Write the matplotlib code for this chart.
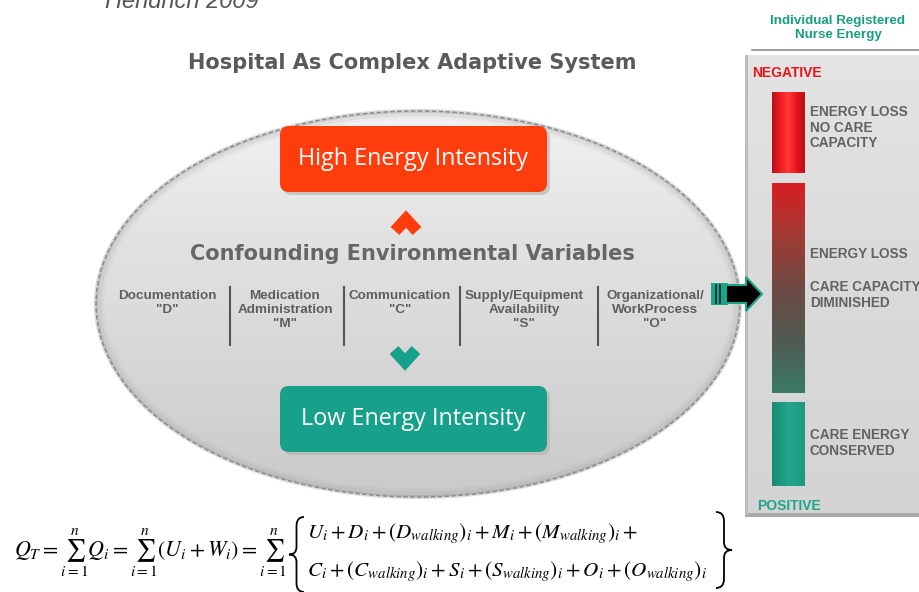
import numpy as np
import matplotlib
matplotlib.use("Agg")
import matplotlib.pyplot as plt
from matplotlib.patches import Ellipse, FancyBboxPatch, Rectangle, Polygon, PathPatch
from matplotlib.path import Path
from matplotlib.colors import LinearSegmentedColormap

# ---- content ----
author = "Hendrich 2009"
title = "Hospital As Complex Adaptive System"
high_label = "High Energy Intensity"
low_label = "Low Energy Intensity"
middle_label = "Confounding Environmental Variables"
variables = ["Documentation\n\"D\"", "Medication\nAdministration\n\"M\"",
             "Communication\n\"C\"", "Supply/Equipment\nAvailability\n\"S\"",
             "Organizational/\nWorkProcess\n\"O\""]
panel_title = "Individual Registered\nNurse Energy"
neg_label = "NEGATIVE"
pos_label = "POSITIVE"
zone_labels = ["ENERGY LOSS\nNO CARE\nCAPACITY", "ENERGY LOSS",
               "CARE CAPACITY\nDIMINISHED", "CARE ENERGY\nCONSERVED"]
eq_left = r"$Q_T = \sum_{i=1}^{n} Q_i = \sum_{i=1}^{n}(U_i + W_i) = \sum_{i=1}^{n}$"
eq_line1 = r"$U_i + D_i + \left(D_{walking}\right)_i + M_i + \left(M_{walking}\right)_i +$"
eq_line2 = r"$C_i + \left(C_{walking}\right)_i + S_i + \left(S_{walking}\right)_i + O_i + \left(O_{walking}\right)_i$"

plt.rcParams['mathtext.fontset'] = 'stix'
SANS = ['Liberation Sans', 'DejaVu Sans']
WIDE = ['DejaVu Sans']

fig = plt.figure(figsize=(9.19, 5.92), dpi=100)
ax = fig.add_axes([0, 0, 1, 1])
ax.set_xlim(0, 919)
ax.set_ylim(592, 0)
ax.axis('off')

def gradient(x0, x1, y0, y1, colors, clip=None, horizontal=False, z=1):
    cmap = LinearSegmentedColormap.from_list('g', colors)
    g = np.linspace(0, 1, 256)
    arr = g[None, :] if horizontal else g[:, None]
    im = ax.imshow(arr, cmap=cmap, extent=(x0, x1, y1, y0), origin='upper',
                   aspect='auto', zorder=z, interpolation='bilinear')
    if clip is not None:
        im.set_clip_path(clip)
    return im

def brace(x_tip, x_end, y0, y1, lw=1.3):
    ym = (y0 + y1) / 2.0
    h = y1 - y0
    xm = (x_tip + x_end) / 2.0
    verts = [(x_end, y0), (xm, y0), (xm, y0 + 0.12 * h),
             (xm, ym - 0.1 * h),
             (xm, ym), (x_tip, ym),
             (xm, ym), (xm, ym + 0.1 * h),
             (xm, y1 - 0.12 * h),
             (xm, y1), (x_end, y1)]
    codes = [Path.MOVETO, Path.CURVE3, Path.CURVE3, Path.LINETO,
             Path.CURVE3, Path.CURVE3, Path.CURVE3, Path.CURVE3,
             Path.LINETO, Path.CURVE3, Path.CURVE3]
    ax.add_patch(PathPatch(Path(verts, codes), facecolor='none', edgecolor='black', lw=lw, zorder=5))

# ---- author (cut off at top) ----
ax.text(105, 2, author, fontsize=17, style='italic', color='#555555',
        family=SANS, ha='left', va='center')

# ---- title ----
ax.text(412, 63, title, fontsize=15, fontweight='bold', color='#5a5a5a',
        family=WIDE, ha='center', va='center')

# ---- ellipse ----
clip_e = Ellipse((418, 304), 644, 386, transform=ax.transData)
gradient(96, 740, 111, 497, ['#f2f2f2', '#e2e2e2', '#d6d6d6', '#cacaca'], clip=clip_e, z=2)
# soft darker rim on the inside
for k, (dw, a) in enumerate([(0, 0.35), (6, 0.18), (12, 0.08)]):
    ax.add_patch(Ellipse((418, 304), 644 - dw, 386 - dw, facecolor='none', edgecolor='#9a9a9a',
                         lw=3, alpha=a, zorder=3))
ax.add_patch(Ellipse((418, 304), 644, 386, facecolor='none', edgecolor='#8c8c8c', lw=1.1,
                     zorder=3, linestyle=(0, (3, 1.5))))

# ---- high / low boxes ----
for (y0, color, label) in [(126, '#ff3c0c', high_label), (386, '#17a08a', low_label)]:
    ax.add_patch(FancyBboxPatch((283, y0 + 3), 267, 66, boxstyle="round,pad=0,rounding_size=9",
                                facecolor='#b0b0b0', edgecolor='none', zorder=4, alpha=0.6))
    ax.add_patch(FancyBboxPatch((280, y0), 267, 66, boxstyle="round,pad=0,rounding_size=9",
                                facecolor=color, edgecolor='none', zorder=5))
    ax.text(413, y0 + 33, label, fontsize=16.8, color='white', family=['Open Sans', 'DejaVu Sans'],
            ha='center', va='center', zorder=6)

# chevrons
ax.plot([395, 406, 417], [231, 219, 231], color='#ff3c0c', lw=8.5, solid_joinstyle='miter',
        solid_capstyle='butt', zorder=6)
ax.plot([394, 405, 416], [350, 362, 350], color='#17a08a', lw=8.5, solid_joinstyle='miter',
        solid_capstyle='butt', zorder=6)

# middle label
ax.text(412, 254, middle_label, fontsize=15, fontweight='bold', color='#666666',
        family=WIDE, ha='center', va='center', zorder=6)

# variables
var_x = [167, 285, 400, 524, 655]
sep_x = [230, 344, 460, 598]
for x, lab in zip(var_x, variables):
    ax.text(x, 290, lab, fontsize=9.7, fontweight='bold', color='#5e5e5e', family=SANS,
            ha='center', va='top', linespacing=1.22, zorder=6)
for x in sep_x:
    ax.plot([x, x], [287, 345], color='#555555', lw=1.5, zorder=6)

# arrow to panel
ax.add_patch(Rectangle((711, 283), 17, 22, facecolor='#1aa58a', edgecolor='none', zorder=7))
ax.plot([716, 716], [285, 303], color='#222222', lw=1.2, zorder=8)
ax.plot([720, 720], [285, 303], color='#222222', lw=1.2, zorder=8)
arrow = Polygon([[726, 285], [746, 285], [746, 277], [762, 294], [746, 311], [746, 303], [726, 303]],
                closed=True, facecolor='black', edgecolor='#1aa58a', lw=1.5, zorder=12)
ax.add_patch(arrow)

# ---- right panel ----
ax.plot([752, 919], [50, 50], color='#8a8a8a', lw=1.2, zorder=3)
ax.text(838, 28, panel_title, fontsize=9.6, fontweight='bold', color='#1a9e80', family=SANS,
        ha='center', va='center', linespacing=1.15)
ax.add_patch(Rectangle((745, 57), 180, 460, facecolor='#a8a8a8', edgecolor='none', zorder=8))
gradient(748, 928, 55, 513, ['#e4e4e4', '#dadada', '#d4d4d4'], clip=None, z=9)
ax.add_patch(Rectangle((745, 55), 3, 460, facecolor='#bdbdbd', edgecolor='none', zorder=10))

ax.text(752, 73, neg_label, fontsize=10, fontweight='bold', color='#e8141a', family=SANS,
        ha='left', va='center', zorder=11)
ax.text(757, 506, pos_label, fontsize=10, fontweight='bold', color='#20a58a', family=SANS,
        ha='left', va='center', zorder=11)

# bar segments
gradient(772, 805, 92, 173, ['#b80f14', '#ee1c22', '#ff3a36', '#e8141c', '#b80f14'],
         horizontal=True, z=11)
gradient(772, 805, 183, 393, ['#d81e22', '#a03a34', '#6e4a44', '#505a52', '#3b7a66'], z=11)
gradient(772, 805, 402, 486, ['#1a8a74', '#22a58a', '#1c9a80'], horizontal=True, z=11)

zone_y = [105, 247, 280, 428]
for y, lab in zip(zone_y, zone_labels):
    ax.text(810, y, lab, fontsize=9.8, fontweight='bold', color='#626262', family=SANS,
            ha='left', va='top', linespacing=1.15, zorder=11)

# ---- equation ----
ax.text(14, 553, eq_left, fontsize=15.8, color='black', ha='left', va='center')
brace(289, 304, 517, 592)
ax.text(307, 534, eq_line1, fontsize=15.2, color='black', ha='left', va='center')
ax.text(307, 572, eq_line2, fontsize=15.2, color='black', ha='left', va='center')
brace(732, 716, 512, 588)

ax.set_xlim(0, 919)
ax.set_ylim(592, 0)
fig.savefig('out.png', dpi=100)
